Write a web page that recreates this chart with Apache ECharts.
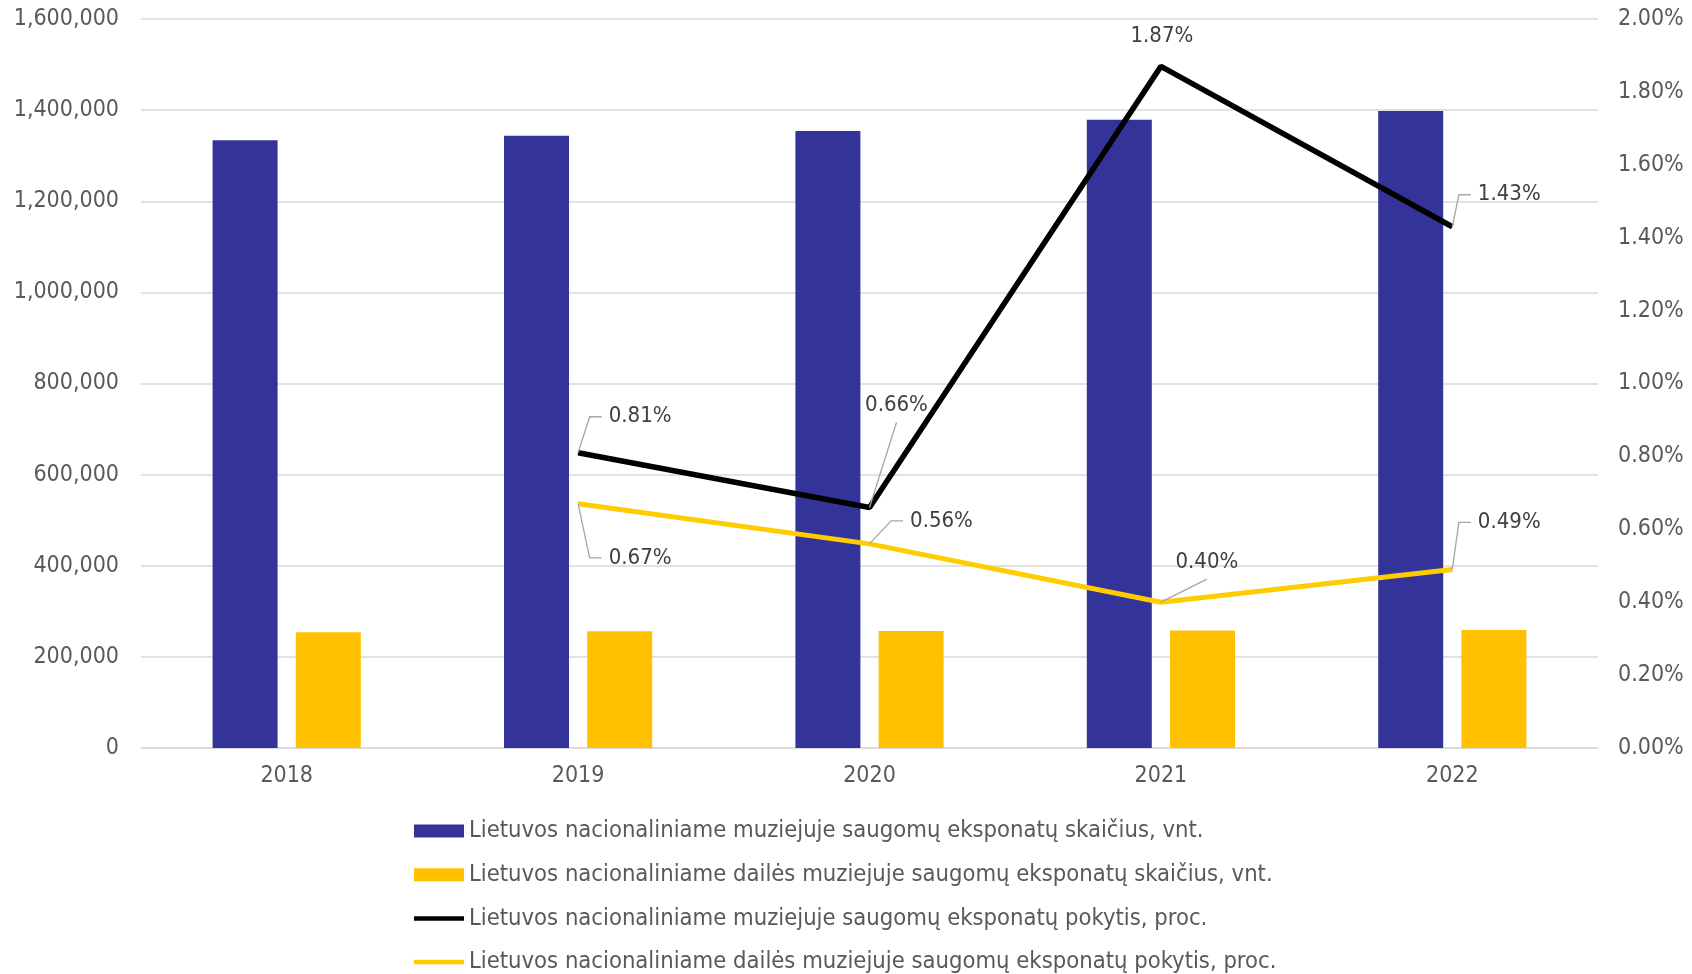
<!DOCTYPE html>
<html>
<head>
<meta charset="utf-8">
<script src="https://cdn.jsdelivr.net/npm/echarts@6/dist/echarts.min.js"></script>
<style>
  html, body { margin: 0; padding: 0; background: #fff; }
  #chart { width: 1692px; height: 974px; }
</style>
</head>
<body>
<div id="chart"></div>
<script>
var years = ["2018", "2019", "2020", "2021", "2022"];
var museumCount = [1334000, 1344000, 1354000, 1379000, 1398000];
var artMuseumCount = [254000, 256000, 257000, 258000, 259000];
var museumChange = [null, 0.81, 0.66, 1.87, 1.43];
var artMuseumChange = [null, 0.67, 0.56, 0.40, 0.49];

var names = [
  "Lietuvos nacionaliniame muziejuje saugomų eksponatų skaičius, vnt.",
  "Lietuvos nacionaliniame dailės muziejuje saugomų eksponatų skaičius, vnt.",
  "Lietuvos nacionaliniame muziejuje saugomų eksponatų pokytis, proc.",
  "Lietuvos nacionaliniame dailės muziejuje saugomų eksponatų pokytis, proc."
];

// where each data label sits relative to its point (px), and how its leader is drawn
var museumLabelShift = [[0, 0], [62, -36], [27, -102], [1, -30], [57, -32]];
var museumLeader = [null, "elbow", "bottom", "none", "elbow"];
var artLabelShift = [[0, 0], [62, 54], [72, -23], [46, -40], [57, -47]];
var artLeader = [null, "elbow", "elbow", "bottom", "elbow"];

var FONT = "'DejaVu Sans Condensed', 'Liberation Sans Narrow', 'DejaVu Sans', sans-serif";
var LABEL_SIZE = 22;
var AXIS_SIZE = 23;

var measureCtx = document.createElement("canvas").getContext("2d");
function textWidth(t) {
  measureCtx.font = LABEL_SIZE + "px " + FONT;
  return measureCtx.measureText(t).width;
}

// line icon for the legend: bar in the middle of the box
var lineIcon = "path://M0,0 M0,8.5 L100,8.5 L100,17.5 L0,17.5 Z M0,26";

function labelRenderer(shift, leader) {
  return function (params, api) {
    var i = params.dataIndex;
    var v = api.value(1);
    if (v == null || isNaN(v)) return;
    var p = api.coord([api.value(0), v]);
    var text = v.toFixed(2) + "%";
    var w = textWidth(text);
    var h = LABEL_SIZE;
    var cx = p[0] + shift[i][0];
    var cy = p[1] + shift[i][1];
    var children = [];
    var kind = leader[i];
    var pts = null;
    if (kind === "elbow") {
      var left = cx - w / 2;
      pts = [[p[0], p[1]], [left - 19, cy], [left - 7, cy]];
    } else if (kind === "bottom") {
      pts = [[p[0], p[1]], [cx, cy + h / 2 + 6]];
    }
    if (pts) {
      children.push({
        type: "polyline",
        shape: { points: pts },
        style: { stroke: "#a6a6a6", lineWidth: 1.3, fill: null }
      });
    }
    children.push({
      type: "text",
      style: {
        text: text,
        x: cx,
        y: cy,
        align: "center",
        verticalAlign: "middle",
        fontSize: LABEL_SIZE,
        fontFamily: FONT,
        fill: "#404040"
      }
    });
    return { type: "group", children: children };
  };
}

var myChart = echarts.init(document.getElementById("chart"));

var option = {
  backgroundColor: "#ffffff",
  animation: false,
  textStyle: { fontFamily: FONT },
  grid: { left: 141, right: 94, top: 19, bottom: 226 },
  legend: {
    orient: "vertical",
    left: 414,
    top: 818,
    height: 160,
    padding: 0,
    itemWidth: 50,
    itemHeight: 13,
    itemGap: 17.7,
    textStyle: { fontFamily: FONT, fontSize: 23.6, color: "#595959", lineHeight: 26 },
    data: [
      { name: names[0], icon: "rect" },
      { name: names[1], icon: "rect" },
      { name: names[2], icon: lineIcon, itemStyle: { color: "#000000" } },
      { name: names[3], icon: lineIcon, itemStyle: { color: "#ffcc00" } }
    ]
  },
  xAxis: {
    type: "category",
    data: years,
    axisLine: { lineStyle: { color: "#d9d9d9", width: 1.5 } },
    axisTick: { show: false },
    axisLabel: { fontFamily: FONT, fontSize: AXIS_SIZE, color: "#595959", margin: 17 }
  },
  yAxis: [
    {
      type: "value",
      min: 0,
      max: 1600000,
      interval: 200000,
      axisLine: { show: false },
      axisTick: { show: false },
      splitLine: { lineStyle: { color: "#d9d9d9", width: 1.5 } },
      axisLabel: {
        fontFamily: FONT,
        fontSize: AXIS_SIZE,
        color: "#595959",
        margin: 22,
        formatter: function (v) { return v.toLocaleString("en-US"); }
      }
    },
    {
      type: "value",
      min: 0,
      max: 2,
      interval: 0.2,
      axisLine: { show: false },
      axisTick: { show: false },
      splitLine: { show: false },
      axisLabel: {
        fontFamily: FONT,
        fontSize: AXIS_SIZE,
        color: "#595959",
        margin: 20,
        formatter: function (v) { return v.toFixed(2) + "%"; }
      }
    }
  ],
  series: [
    {
      name: names[0],
      type: "bar",
      data: museumCount,
      barWidth: 65,
      barGap: "28%",
      itemStyle: { color: "#333399" }
    },
    {
      name: names[1],
      type: "bar",
      data: artMuseumCount,
      barWidth: 65,
      itemStyle: { color: "#ffc000" }
    },
    {
      name: names[2],
      type: "line",
      yAxisIndex: 1,
      data: museumChange,
      symbol: "circle",
      symbolSize: 1,
      itemStyle: { color: "#000000" },
      lineStyle: { color: "#000000", width: 5.5 }
    },
    {
      name: names[3],
      type: "line",
      yAxisIndex: 1,
      data: artMuseumChange,
      symbol: "circle",
      symbolSize: 1,
      itemStyle: { color: "#ffcc00" },
      lineStyle: { color: "#ffcc00", width: 5 }
    },
    {
      type: "custom",
      yAxisIndex: 1,
      silent: true,
      clip: false,
      z: 5,
      encode: { x: 0, y: 1 },
      data: museumChange.map(function (v, i) { return [i, v]; }),
      renderItem: labelRenderer(museumLabelShift, museumLeader)
    },
    {
      type: "custom",
      yAxisIndex: 1,
      silent: true,
      clip: false,
      z: 5,
      encode: { x: 0, y: 1 },
      data: artMuseumChange.map(function (v, i) { return [i, v]; }),
      renderItem: labelRenderer(artLabelShift, artLeader)
    }
  ]
};

myChart.setOption(option);
</script>
</body>
</html>
